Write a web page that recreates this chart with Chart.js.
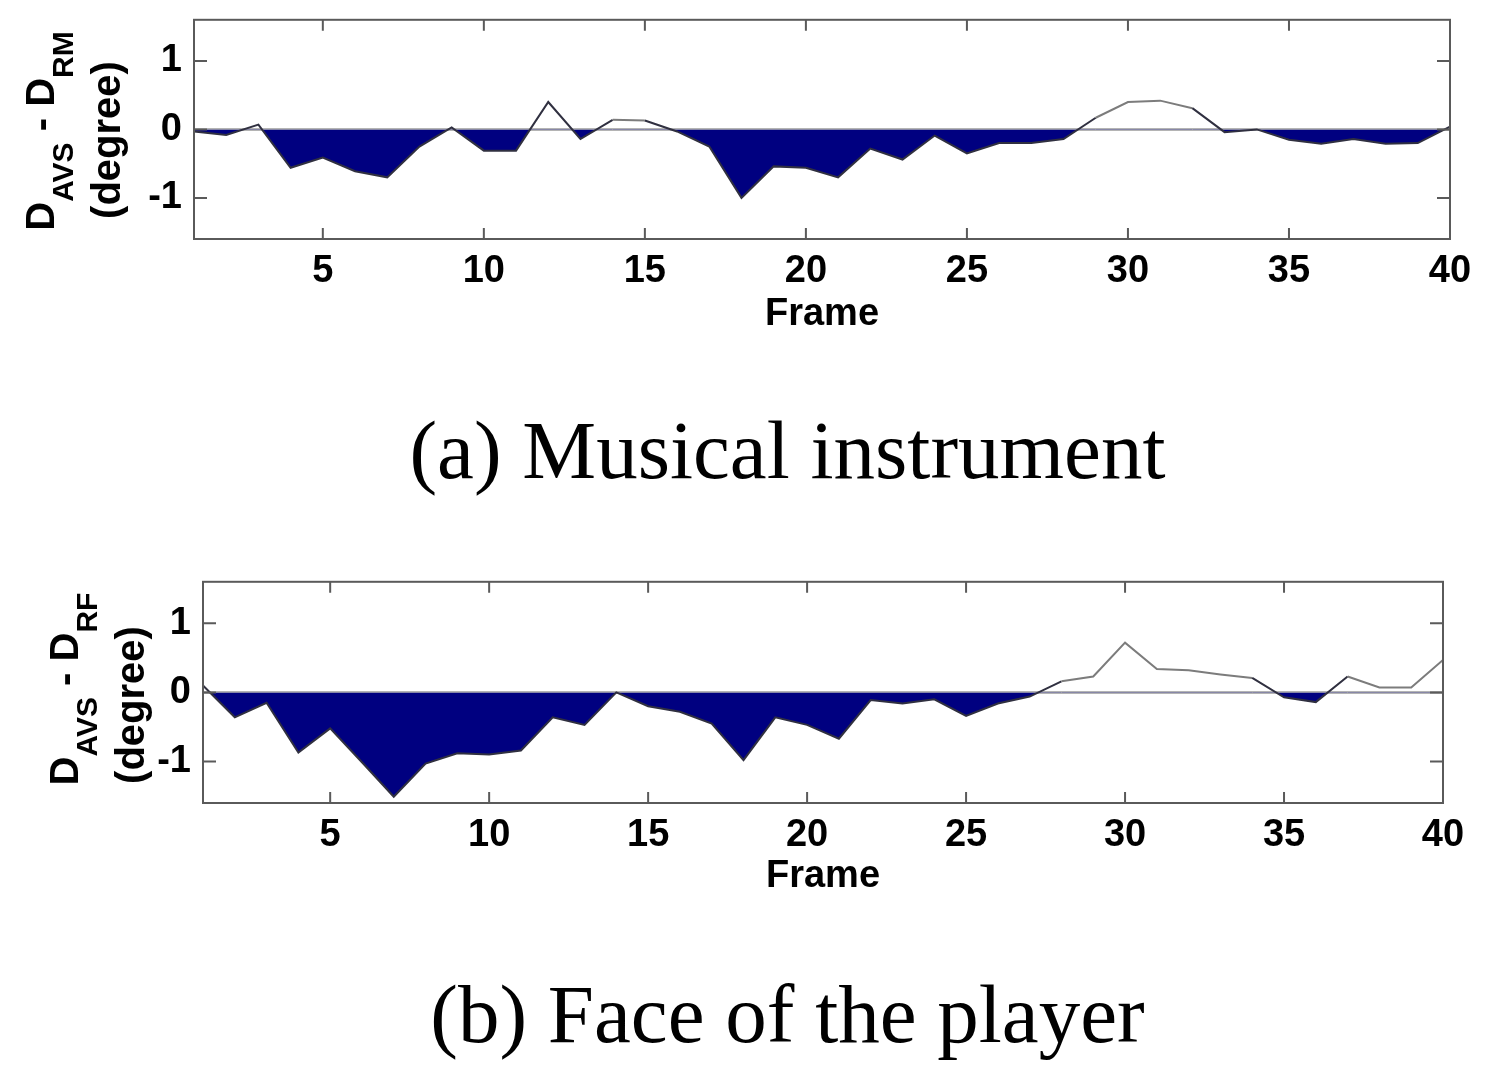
<!DOCTYPE html>
<html>
<head>
<meta charset="utf-8">
<script src="https://cdn.jsdelivr.net/npm/chart.js@4"></script>
<style>
body { margin: 0; background: #fff; }
#page { position: relative; width: 1491px; height: 1080px; overflow: hidden; font-family: "Liberation Sans", Arial, sans-serif; }
canvas { position: absolute; left: 0; }
.ylab { position: absolute; font-weight: bold; font-size: 40px; line-height: 40px; white-space: nowrap; transform: translate(-50%, -50%) rotate(-90deg); }
.ylab span { font-size: 30px; position: relative; top: 19px; }
.cap { position: absolute; left: 84px; width: 1407px; text-align: center; font-family: "Liberation Serif", "Times New Roman", serif; font-size: 83px; line-height: 82px; }
</style>
</head>
<body>
<div id="page">
  <canvas id="chartA" width="1491" height="355" style="top:-15px"></canvas>
  <canvas id="chartB" width="1491" height="355" style="top:547px"></canvas>

  <div class="ylab" style="left:42px; top:131px">D<span>AVS</span> - D<span>RM</span></div>
  <div class="ylab" style="left:106px; top:140px">(degree)</div>
  <div class="cap" style="top:409px">(a) Musical instrument</div>

  <div class="ylab" style="left:66px; top:689px">D<span>AVS</span> - D<span>RF</span></div>
  <div class="ylab" style="left:130px; top:705px">(degree)</div>
  <div class="cap" style="top:973px">(b) Face of the player</div>
</div>
<script>
const frames = [1, 2, 3, 4, 5, 6, 7, 8, 9, 10, 11, 12, 13, 14, 15, 16, 17, 18, 19, 20,
                21, 22, 23, 24, 25, 26, 27, 28, 29, 30, 31, 32, 33, 34, 35, 36, 37, 38, 39, 40];

// (a) D_AVS - D_RM
const diffRM = [-0.03, -0.08, 0.07, -0.56, -0.41, -0.61, -0.70, -0.25, 0.03, -0.31,
                -0.31, 0.40, -0.14, 0.14, 0.13, -0.03, -0.25, -1.00, -0.54, -0.56,
                -0.70, -0.28, -0.44, -0.09, -0.35, -0.20, -0.20, -0.14, 0.17, 0.40,
                0.42, 0.31, -0.04, 0.00, -0.15, -0.21, -0.14, -0.21, -0.20, 0.04];

// (b) D_AVS - D_RF
const diffRF = [0.10, -0.36, -0.15, -0.87, -0.52, -1.01, -1.51, -1.03, -0.88, -0.90,
                -0.84, -0.36, -0.47, 0.00, -0.20, -0.28, -0.45, -0.98, -0.36, -0.47,
                -0.67, -0.11, -0.16, -0.10, -0.34, -0.16, -0.06, 0.16, 0.23, 0.72,
                0.34, 0.32, 0.26, 0.21, -0.07, -0.14, 0.23, 0.07, 0.07, 0.47];

const xTickValues = [5, 10, 15, 20, 25, 30, 35, 40];
const yTickValues = [-1, 0, 1];

const tickFont = { size: 38, weight: 'bold', family: '"Liberation Sans", Arial, sans-serif' };

// box round the plot with inward ticks on all four sides
const boxTicks = {
    id: 'boxTicks',
    afterDraw(chart) {
        const { ctx, chartArea: a, scales: { x, y } } = chart;
        ctx.save();
        ctx.strokeStyle = '#5a5a5a';
        ctx.lineWidth = 2;
        ctx.beginPath();
        x.ticks.forEach(t => {
            const px = x.getPixelForValue(t.value);
            ctx.moveTo(px, a.bottom); ctx.lineTo(px, a.bottom - 11);
            ctx.moveTo(px, a.top); ctx.lineTo(px, a.top + 11);
        });
        y.ticks.forEach(t => {
            const py = y.getPixelForValue(t.value);
            ctx.moveTo(a.left, py); ctx.lineTo(a.left + 13, py);
            ctx.moveTo(a.right, py); ctx.lineTo(a.right - 13, py);
        });
        ctx.stroke();
        ctx.strokeRect(a.left, a.top, a.right - a.left, a.bottom - a.top);
        ctx.restore();
    }
};

function makeChart(id, values, axisWidth, padRight, xHeight) {
    return new Chart(document.getElementById(id), {
        type: 'line',
        data: {
            datasets: [{
                data: frames.map((f, i) => ({ x: f, y: values[i] })),
                borderColor: '#7c7c7c',
                borderWidth: 2,
                pointRadius: 0,
                tension: 0,
                segment: {
                    borderColor: c => (c.p0.parsed.y < 0 || c.p1.parsed.y < 0) ? '#303040' : '#7c7c7c'
                },
                fill: { target: 'origin', above: 'rgba(0,0,0,0)', below: '#000080' }
            }]
        },
        options: {
            responsive: false,
            animation: false,
            events: [],
            layout: { padding: { top: 5, right: padRight, left: 0, bottom: 0 } },
            plugins: { legend: { display: false }, tooltip: { enabled: false } },
            scales: {
                x: {
                    type: 'linear',
                    min: 1,
                    max: 40,
                    afterBuildTicks: s => { s.ticks = xTickValues.map(v => ({ value: v })); },
                    grid: { display: false, drawTicks: false },
                    border: { display: false },
                    ticks: { padding: 10, color: '#000', font: tickFont, maxRotation: 0, autoSkip: false },
                    title: { display: true, text: 'Frame', color: '#000', font: tickFont, padding: { top: 0, bottom: 3 } },
                    afterFit: s => { s.height = xHeight; }
                },
                y: {
                    min: -1.6,
                    max: 1.6,
                    afterBuildTicks: s => { s.ticks = yTickValues.map(v => ({ value: v })); },
                    grid: {
                        drawTicks: false,
                        color: c => (c.tick && c.tick.value === 0) ? '#b4b4b4' : 'rgba(0,0,0,0)',
                        lineWidth: 3
                    },
                    border: { display: false },
                    ticks: { padding: 12, color: '#000', font: tickFont },
                    afterFit: s => { s.width = axisWidth; }
                }
            }
        },
        plugins: [boxTicks]
    });
}

makeChart('chartA', diffRM, 194, 41, 101);
makeChart('chartB', diffRF, 203, 48, 99);
</script>
</body>
</html>
